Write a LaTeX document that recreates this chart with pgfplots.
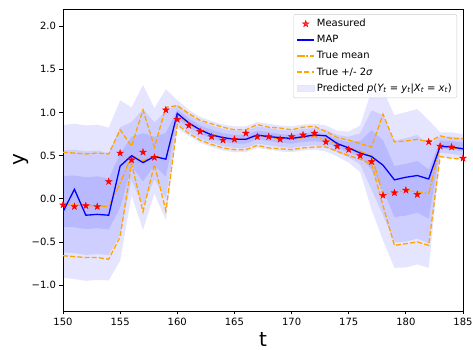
\documentclass[border=0pt]{standalone}
\usepackage{fontspec}
\setmainfont{DejaVu Sans}
\usepackage{pgfplots}
\pgfplotsset{compat=1.18}
\usepackage{pgfplotstable}
\usepgfplotslibrary{fillbetween}

\definecolor{mplorange}{RGB}{255,165,0}
\definecolor{legpatch}{RGB}{229,229,255}

\pgfdeclareplotmark{fstar}{%
 \pgfpathmoveto{\pgfpointpolar{90}{\pgfplotmarksize}}%
 \pgfpathlineto{\pgfpointpolar{126}{0.382\pgfplotmarksize}}%
 \pgfpathlineto{\pgfpointpolar{162}{\pgfplotmarksize}}%
 \pgfpathlineto{\pgfpointpolar{198}{0.382\pgfplotmarksize}}%
 \pgfpathlineto{\pgfpointpolar{234}{\pgfplotmarksize}}%
 \pgfpathlineto{\pgfpointpolar{270}{0.382\pgfplotmarksize}}%
 \pgfpathlineto{\pgfpointpolar{306}{\pgfplotmarksize}}%
 \pgfpathlineto{\pgfpointpolar{342}{0.382\pgfplotmarksize}}%
 \pgfpathlineto{\pgfpointpolar{18}{\pgfplotmarksize}}%
 \pgfpathlineto{\pgfpointpolar{54}{0.382\pgfplotmarksize}}%
 \pgfpathclose\pgfusepathqfillstroke}

% measured points
\pgfplotstableread{
t y
150 -0.07
151 -0.09
152 -0.08
153 -0.09
154 0.20
155 0.53
156 0.45
157 0.54
158 0.48
159 1.03
160 0.92
161 0.85
162 0.78
163 0.72
164 0.68
165 0.69
166 0.76
167 0.72
168 0.72
169 0.69
170 0.72
171 0.74
172 0.76
173 0.66
174 0.61
175 0.57
176 0.50
177 0.43
178 0.04
179 0.07
180 0.10
181 0.05
182 0.66
183 0.61
184 0.60
185 0.47
}\measured

% MAP estimate
\pgfplotstableread{
t y
150 -0.15
151 0.11
152 -0.19
153 -0.18
154 -0.19
155 0.38
156 0.50
157 0.42
158 0.49
159 0.46
160 0.99
161 0.88
162 0.80
163 0.74
164 0.71
165 0.69
166 0.69
167 0.74
168 0.72
169 0.71
170 0.70
171 0.72
172 0.74
173 0.73
174 0.64
175 0.59
176 0.53
177 0.49
178 0.39
179 0.22
180 0.25
181 0.27
182 0.23
183 0.61
184 0.60
185 0.58
}\mapest

% true mean, upper and lower 2 sigma
\pgfplotstableread{
t mean up lo
150 -0.06 0.54 -0.66
151 -0.07 0.53 -0.67
152 -0.08 0.52 -0.68
153 -0.08 0.53 -0.68
154 -0.09 0.52 -0.70
155 0.18 0.80 -0.44
156 0.50 0.61 0.41
157 0.44 1.03 -0.15
158 0.50 0.60 0.40
159 0.46 1.06 -0.14
160 0.97 1.08 0.86
161 0.87 0.99 0.76
162 0.80 0.91 0.68
163 0.75 0.87 0.63
164 0.71 0.83 0.59
165 0.69 0.80 0.57
166 0.69 0.80 0.57
167 0.74 0.86 0.62
168 0.71 0.83 0.59
169 0.70 0.82 0.58
170 0.69 0.80 0.57
171 0.71 0.83 0.59
172 0.72 0.84 0.60
173 0.69 0.78 0.60
174 0.63 0.71 0.55
175 0.59 0.68 0.50
176 0.55 0.64 0.46
177 0.50 0.60 0.40
178 0.05 0.98 -0.08
179 0.07 0.66 -0.54
180 0.10 0.67 -0.52
181 0.08 0.69 -0.50
182 0.06 0.66 -0.54
183 0.61 0.73 0.49
184 0.59 0.70 0.47
185 0.58 0.70 0.46
}\truth

% predicted centre and sigma
\pgfplotstableread{
t c s
150 -0.03 0.295
151 -0.03 0.300
152 -0.05 0.300
153 -0.04 0.300
154 -0.06 0.295
155 0.21 0.310
156 0.55 0.170
157 0.48 0.280
158 0.555 0.165
159 0.51 0.253
160 0.98 0.055
161 0.88 0.050
162 0.80 0.050
163 0.75 0.050
164 0.71 0.050
165 0.69 0.050
166 0.69 0.050
167 0.74 0.050
168 0.72 0.050
169 0.70 0.050
170 0.69 0.050
171 0.71 0.050
172 0.72 0.050
173 0.70 0.050
174 0.64 0.050
175 0.60 0.060
176 0.58 0.090
177 0.565 0.230
178 0.39 0.290
179 0.085 0.295
180 0.105 0.300
181 0.14 0.300
182 0.055 0.285
183 0.63 0.047
184 0.62 0.050
185 0.60 0.050
}\pred

\begin{document}
\begin{tikzpicture}
\begin{axis}[
  scale only axis, width=400pt, height=302pt,
  xmin=150, xmax=185, ymin=-1.3, ymax=2.2,
  xtick={150,155,160,165,170,175,180,185},
  xticklabels={150,155,160,165,170,175,180,185},
  ytick={-1,-0.5,0,0.5,1,1.5,2},
  yticklabels={−1.0,−0.5,0.0,0.5,1.0,1.5,2.0},
  tick align=outside, xtick pos=bottom, ytick pos=left,
  major tick length=3.5pt,
  tick style={black, line width=0.8pt},
  axis line style={black, line width=0.8pt},
  ticklabel style={font=\fontsize{10}{12}\selectfont},
  xlabel={t}, ylabel={y},
  label style={font=\fontsize{20}{24}\selectfont},
  xlabel style={at={(axis description cs:0.5,-0.118)}, anchor=base},
  ylabel style={at={(axis description cs:-0.105,0.5)}, anchor=center},
  legend cell align=left,
  legend style={at={(0.985,0.983)}, anchor=north east,
    draw=black!20, rounded corners=2pt, fill=white, fill opacity=0.8, text opacity=1,
    font=\fontsize{10}{12}\selectfont, row sep=3.2pt, inner sep=3pt},
]
\addlegendimage{only marks, mark=fstar, mark size=3.5pt, draw=red, fill=red, mark options={fill=red, draw=red}}
\addlegendentry{Measured}
\addlegendimage{draw=blue, line width=1.3pt}
\addlegendentry{MAP}
\addlegendimage{draw=mplorange, line width=1.3pt, dash pattern=on 7pt off 2pt on 1.5pt off 2pt}
\addlegendentry{True mean}
\addlegendimage{draw=mplorange, line width=1.3pt, dash pattern=on 5pt off 2.2pt}
\addlegendentry{True +/- 2{\itshape σ}}
\addlegendimage{area legend, draw=legpatch, fill=legpatch, rounded corners=0pt}
\addlegendentry{Predicted {\itshape p}({\itshape Y}\textsubscript{\itshape t} = {\itshape y}\textsubscript{\itshape t}|{\itshape X}\textsubscript{\itshape t} = {\itshape x}\textsubscript{\itshape t})}

% predicted bands
\addplot[name path=u3, draw=none, forget plot] table[x=t, y expr=\thisrow{c}+3*\thisrow{s}] {\pred};
\addplot[name path=l3, draw=none, forget plot] table[x=t, y expr=\thisrow{c}-3*\thisrow{s}] {\pred};
\addplot[name path=u2, draw=none, forget plot] table[x=t, y expr=\thisrow{c}+2*\thisrow{s}] {\pred};
\addplot[name path=l2, draw=none, forget plot] table[x=t, y expr=\thisrow{c}-2*\thisrow{s}] {\pred};
\addplot[name path=u1, draw=none, forget plot] table[x=t, y expr=\thisrow{c}+\thisrow{s}] {\pred};
\addplot[name path=l1, draw=none, forget plot] table[x=t, y expr=\thisrow{c}-\thisrow{s}] {\pred};
\addplot[blue, fill opacity=0.1, draw=none, forget plot] fill between[of=u3 and l3];
\addplot[blue, fill opacity=0.1, draw=none, forget plot] fill between[of=u2 and l2];
\addplot[blue, fill opacity=0.1, draw=none, forget plot] fill between[of=u1 and l1];

% true mean +/- 2 sigma
\addplot[mplorange, line width=1.3pt, dash pattern=on 5pt off 2.2pt, forget plot] table[x=t, y=up] {\truth};
\addplot[mplorange, line width=1.3pt, dash pattern=on 5pt off 2.2pt, forget plot] table[x=t, y=lo] {\truth};
\addplot[mplorange, line width=1.3pt, dash pattern=on 7pt off 2pt on 1.5pt off 2pt, forget plot] table[x=t, y=mean] {\truth};
% MAP
\addplot[blue, line width=1.3pt, forget plot] table[x=t, y=y] {\mapest};
% measured
\addplot[only marks, mark=fstar, mark size=3.5pt, red, mark options={fill=red, draw=red}, forget plot] table[x=t, y=y] {\measured};
\end{axis}
\pgfresetboundingbox
\path[use as bounding box] ([xshift=-63pt,yshift=-39pt]current axis.south west) rectangle ([xshift=10pt,yshift=9pt]current axis.north east);
\end{tikzpicture}
\end{document}
